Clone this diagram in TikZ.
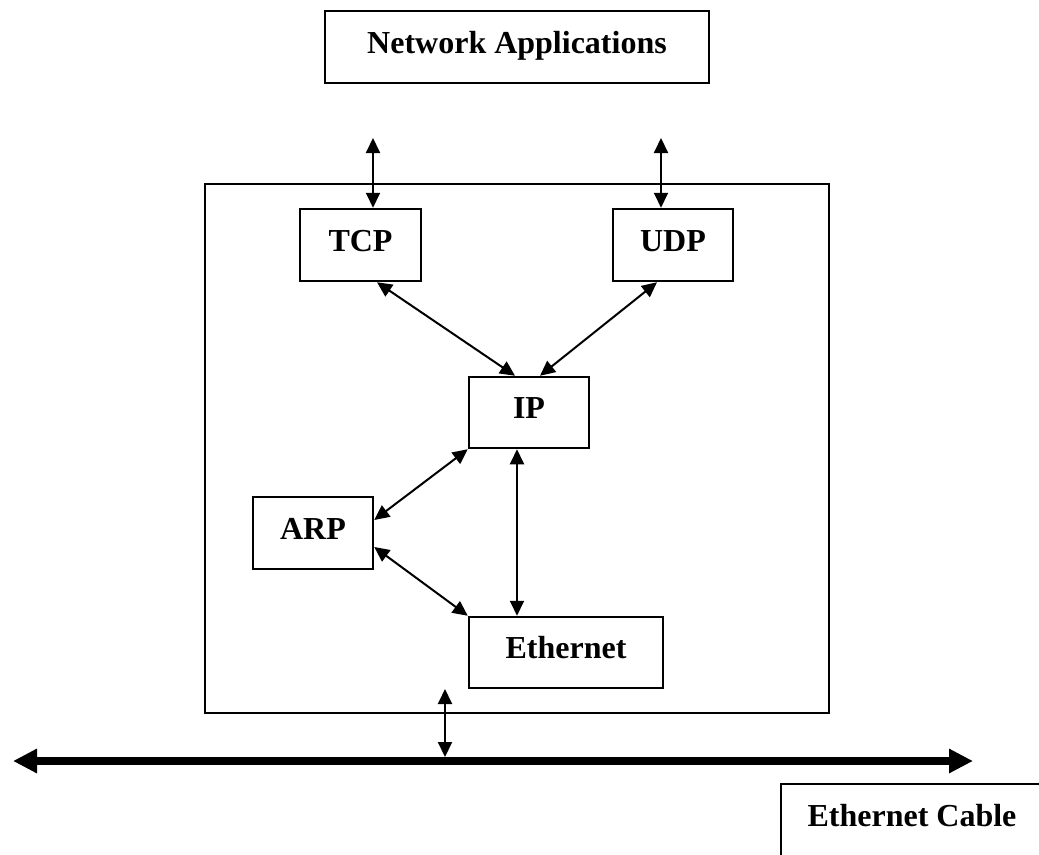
\documentclass[tikz,border=0pt]{standalone}
\usepackage{fontspec}
\setmainfont{Liberation Serif}
\usetikzlibrary{arrows.meta}
\begin{document}
\begin{tikzpicture}[x=1bp,y=-1bp,
  box/.style={draw, line width=2.5bp, rectangle, inner sep=0pt,
    minimum height=72bp,
    font=\fontsize{32bp}{38bp}\selectfont\bfseries,
    text height=22bp, text depth=10bp},
  link/.style={line width=2bp,
    {Triangle[length=15bp,width=14bp]}-{Triangle[length=15bp,width=14bp]}},
  cable/.style={line width=8bp,
    {Triangle[length=24bp,width=23bp]}-{Triangle[length=24bp,width=23bp]}},
]
\useasboundingbox (0,0) rectangle (1039,855);
\fill[white] (0,0) rectangle (1039,855);

% protocol stack container
\node[box, minimum width=624bp, minimum height=529bp] (host) at (517,448.5) {};

% layers
\node[box, minimum width=384bp] (apps) at (517,47) {Network Applications};
\node[box, minimum width=121bp] (tcp) at (360.5,245) {TCP};
\node[box, minimum width=120bp] (udp) at (673,245) {UDP};
\node[box, minimum width=120bp, minimum height=71bp] (ip) at (529,412.5) {IP};
\node[box, minimum width=120bp] (arp) at (313,533) {ARP};
\node[box, minimum width=194bp, minimum height=71bp] (eth) at (566,652.5) {Ethernet};
\node[box, minimum width=262bp] (cablelabel) at (912,820) {Ethernet Cable};

% free ends
\coordinate (tcpup) at (373,138);
\coordinate (udpup) at (661,138);
\coordinate (cabL) at (13,761);
\coordinate (cabR) at (973,761);
\coordinate (hostdn) at (445,689);

% connectors
\draw[link] (tcpup) -- (tcpup |- tcp.north);
\draw[link] (udpup) -- (udpup |- udp.north);
\draw[link] ([xshift=16.5bp]tcp.south) -- ([xshift=-14bp]ip.north);
\draw[link] ([xshift=-16bp]udp.south) -- ([xshift=11bp]ip.north);
\draw[link] ([yshift=13bp]arp.east) -- (ip.south west);
\draw[link] ([yshift=-14bp]arp.east) -- (eth.north west);
\draw[link] ([xshift=-12bp]ip.south) -- ([xshift=-12bp]ip.south |- eth.north);

% the cable
\draw[cable] (cabL) -- (cabR);
\draw[link] (hostdn) -- ([yshift=4bp]hostdn |- cabL);
\end{tikzpicture}
\end{document}
